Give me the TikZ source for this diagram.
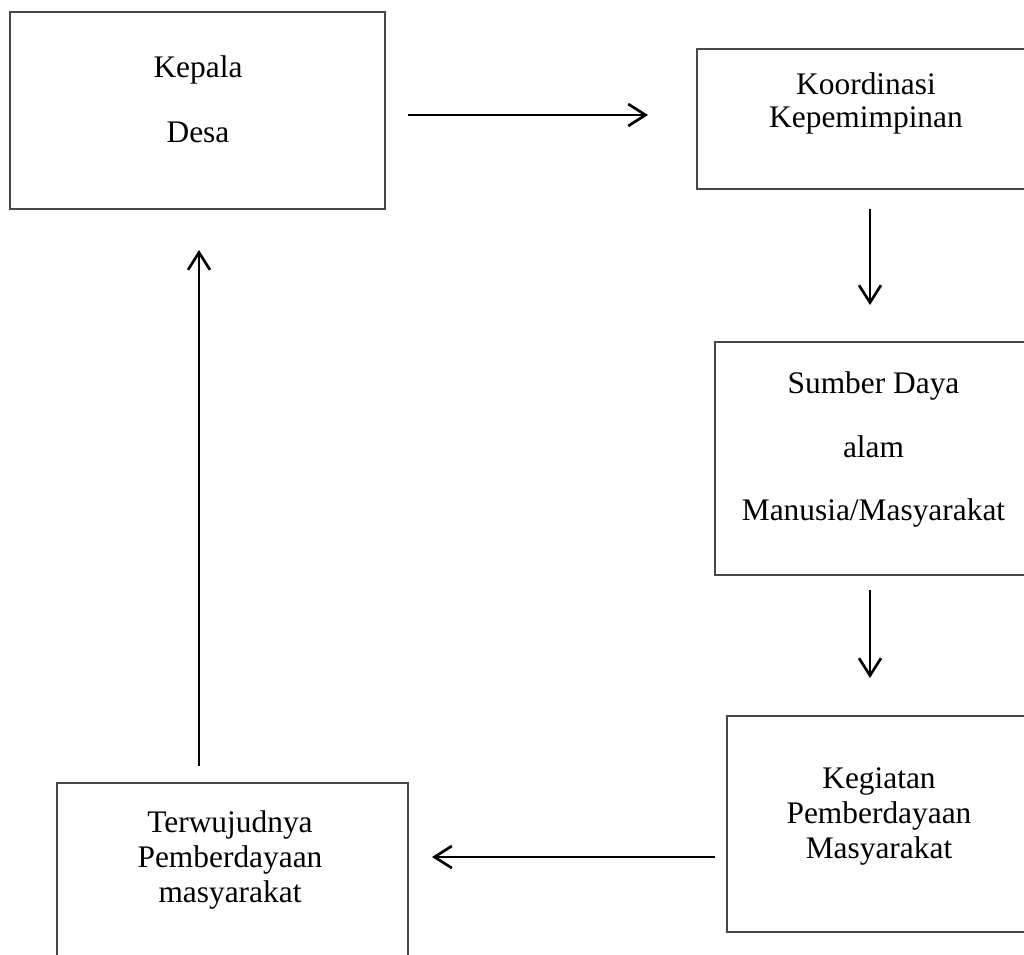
\documentclass[tikz,border=0pt]{standalone}
\usepackage{fontspec}
\setmainfont{Liberation Serif}
\usetikzlibrary{arrows.meta}
\begin{document}
\begin{tikzpicture}[x=0.75pt,y=-0.75pt,
  box/.style={draw=black!72, line width=0.9pt, rectangle, inner sep=0pt},
  lbl/.style={anchor=base, inner sep=0pt, font=\fontsize{23.55pt}{28pt}\selectfont},
  conn/.style={line width=2pt, -{Straight Barb[length=13pt,width=16.5pt,line width=2pt]}}]
\useasboundingbox (0,0) rectangle (1024,954);
% boxes
\node[box, minimum width=375*0.75pt, minimum height=197*0.75pt] (kepala) at (197.5,110.5) {};
\node[box, minimum width=343*0.75pt, minimum height=140*0.75pt] (koord) at (868.5,119) {};
\node[box, minimum width=325*0.75pt, minimum height=233*0.75pt] (sumber) at (877.5,458.5) {};
\node[box, minimum width=313*0.75pt, minimum height=216*0.75pt] (kegiatan) at (883.5,824) {};
\node[box, minimum width=351*0.75pt, minimum height=192*0.75pt] (terwujud) at (232.5,879) {};
% texts
\node[lbl] (t1a) at (198,77) {Kepala};
\node[lbl] (t1b) at (198,142) {Desa};
\node[lbl] (t2a) at (866,94) {Koordinasi};
\node[lbl] (t2b) at (866,127) {Kepemimpinan};
\node[lbl] (t3a) at (873.5,393) {Sumber Daya};
\node[lbl] (t3b) at (873.5,457) {alam};
\node[lbl] (t3c) at (873.5,520) {Manusia/Masyarakat};
\node[lbl] (t4a) at (879,788) {Kegiatan};
\node[lbl] (t4b) at (879,823) {Pemberdayaan};
\node[lbl] (t4c) at (879,858) {Masyarakat};
\node[lbl] (t5a) at (230,832) {Terwujudnya};
\node[lbl] (t5b) at (230,867) {Pemberdayaan};
\node[lbl] (t5c) at (230,902) {masyarakat};
% connector ends
\coordinate (a1s) at (408,115);
\coordinate (a1e) at (648,115);
\coordinate (a2s) at (870,209);
\coordinate (a2e) at (870,305);
\coordinate (a3s) at (870,590);
\coordinate (a3e) at (870,678);
\coordinate (a4s) at (715,857);
\coordinate (a4e) at (432,857);
\coordinate (a5s) at (199,766);
\coordinate (a5e) at (199,250);
\draw[conn] (a1s) -- (a1e);
\draw[conn] (a2s) -- (a2e);
\draw[conn] (a3s) -- (a3e);
\draw[conn] (a4s) -- (a4e);
\draw[conn] (a5s) -- (a5e);
\end{tikzpicture}
\end{document}
